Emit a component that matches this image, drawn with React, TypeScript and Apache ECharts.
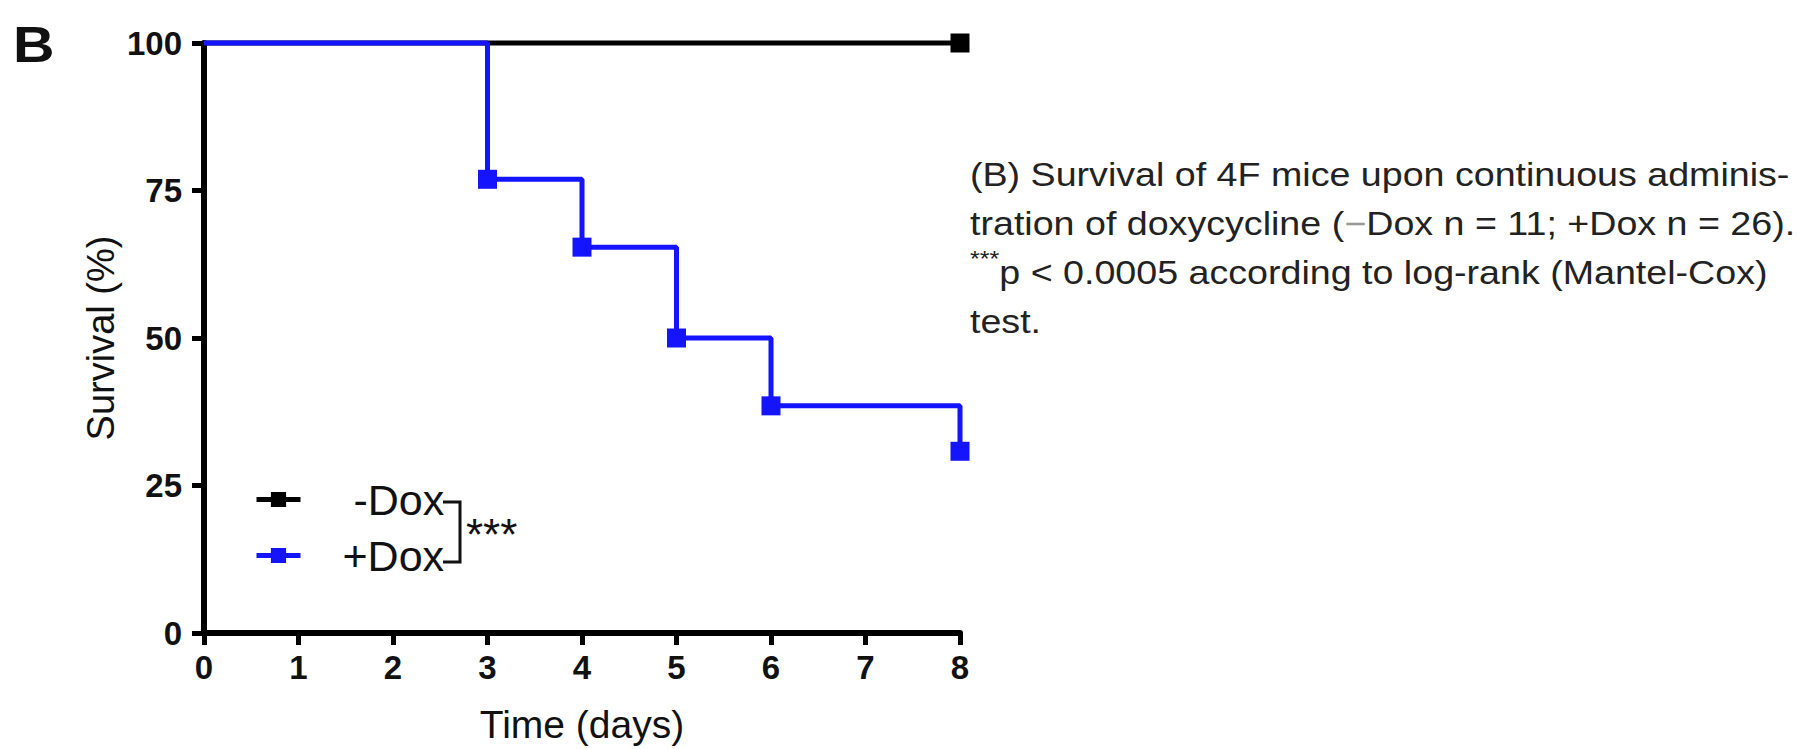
import React, { useEffect, useRef } from "react";
import * as echarts from "echarts";

const xTicks = [0, 1, 2, 3, 4, 5, 6, 7, 8];
const yTicks = [0, 25, 50, 75, 100];
const minusDoxDays = [0, 8];
const minusDoxSurvival = [100, 100];
const plusDoxDays = [0, 3, 4, 5, 6, 8];
const plusDoxSurvival = [100, 76.9, 65.4, 50, 38.5, 30.8];
const seriesNames = ["-Dox", "+Dox"];
const captionLines = [
  "(B) Survival of 4F mice upon continuous adminis-",
  "tration of doxycycline ({m|−}Dox n = 11; +Dox n = 26).",
  "{s|***}p < 0.0005 according to log-rank (Mantel-Cox)",
  "test.",
];

const FONT = "'Liberation Sans', Arial, sans-serif";
const BLUE = "#1414ff";

export default function App() {
  const ref = useRef<HTMLDivElement>(null);
  useEffect(() => {
    if (!ref.current) return;
    const chart = echarts.init(ref.current, undefined, { renderer: "svg" });
    const toPairs = (xs: number[], ys: number[]) =>
      xs.map((x, i) => (i === 0 ? { value: [x, ys[i]], symbol: "none" } : { value: [x, ys[i]] }));
    const legendBase = {
      padding: 0,
      itemWidth: 44,
      itemHeight: 19,
      lineStyle: { width: 5 },
    };
    chart.setOption({
      animation: false,
      backgroundColor: "#ffffff",
      grid: { left: 204, top: 43, width: 756, height: 591, containLabel: false },
      xAxis: {
        type: "value",
        min: 0,
        max: 8,
        interval: 1,
        name: "Time (days)",
        nameLocation: "middle",
        nameGap: 72,
        nameTextStyle: { fontFamily: FONT, fontSize: 39, color: "#111" },
        axisLine: { lineStyle: { color: "#000", width: 6 } },
        axisTick: { length: 12, lineStyle: { color: "#000", width: 5 } },
        axisLabel: { fontFamily: FONT, fontSize: 33, fontWeight: "bold", color: "#111", margin: 18 },
        splitLine: { show: false },
      },
      yAxis: {
        type: "value",
        min: 0,
        max: 100,
        interval: 25,
        name: "Survival (%)",
        nameLocation: "middle",
        nameGap: 84,
        nameTextStyle: { fontFamily: FONT, fontSize: 38, color: "#111" },
        axisLine: { lineStyle: { color: "#000", width: 6 } },
        axisTick: { length: 12, lineStyle: { color: "#000", width: 5 } },
        axisLabel: { fontFamily: FONT, fontSize: 33, fontWeight: "bold", color: "#111", margin: 22 },
        splitLine: { show: false },
      },
      legend: [
        {
          ...legendBase,
          data: [seriesNames[0]],
          left: 254,
          top: 478,
          textStyle: { fontFamily: FONT, fontSize: 43, color: "#111", padding: [0, 0, 0, 48] },
        },
        {
          ...legendBase,
          data: [seriesNames[1]],
          left: 254,
          top: 534,
          textStyle: { fontFamily: FONT, fontSize: 43, color: "#111", padding: [0, 0, 0, 37] },
        },
      ],
      series: [
        {
          name: seriesNames[0],
          type: "line",
          step: "end",
          clip: false,
          data: toPairs(minusDoxDays, minusDoxSurvival),
          symbol: "rect",
          symbolSize: 19,
          color: "#000",
          lineStyle: { color: "#000", width: 5 },
          itemStyle: { color: "#000" },
          z: 2,
        },
        {
          name: seriesNames[1],
          type: "line",
          step: "end",
          clip: false,
          data: toPairs(plusDoxDays, plusDoxSurvival),
          symbol: "rect",
          symbolSize: 19,
          color: BLUE,
          lineStyle: { color: BLUE, width: 5 },
          itemStyle: { color: BLUE },
          z: 3,
        },
      ],
      graphic: [
        {
          type: "text",
          x: 13,
          y: 44,
          scaleX: 1.15,
          style: {
            text: "B",
            fontFamily: FONT,
            fontSize: 50,
            fontWeight: "bold",
            fill: "#111",
            verticalAlign: "middle",
          },
        },
        {
          type: "polyline",
          shape: { points: [[443, 502], [460, 502], [460, 562], [443, 562]] },
          style: { stroke: "#111", lineWidth: 3, fill: "none" },
        },
        {
          type: "text",
          x: 466,
          y: 534,
          style: { text: "***", fontFamily: FONT, fontSize: 44, fill: "#111", verticalAlign: "middle" },
        },
        {
          type: "text",
          x: 970,
          y: 150,
          scaleX: 1.14,
          style: {
            text: captionLines.join("\n"),
            fontFamily: FONT,
            fontSize: 33,
            lineHeight: 49,
            fill: "#222",
            rich: {
              m: { fontFamily: FONT, fontSize: 33, lineHeight: 49, fill: "#999" },
              s: { fontFamily: FONT, fontSize: 22, lineHeight: 49, fill: "#222", verticalAlign: "top" },
            },
          },
        },
      ],
    });
    return () => chart.dispose();
  }, []);
  return (
    <div
      ref={ref}
      style={{ position: "fixed", left: 0, top: 0, width: 1798, height: 749, background: "#fff" }}
    />
  );
}
